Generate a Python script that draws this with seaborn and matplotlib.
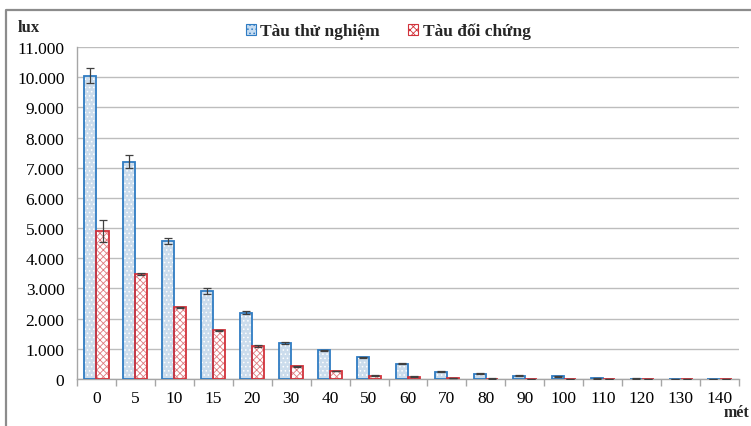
import pandas as pd
import matplotlib
matplotlib.use("Agg")
import matplotlib.pyplot as plt
from matplotlib.patches import Patch, Rectangle
from matplotlib.lines import Line2D
from matplotlib.ticker import FuncFormatter, FixedLocator
import seaborn as sns

# khoảng cách (mét)
distances = ["0", "5", "10", "15", "20", "30", "40", "50", "60", "70",
             "80", "90", "100", "110", "120", "130", "140"]
# độ rọi (lux)
tau_thu_nghiem = [10050, 7200, 4570, 2920, 2200, 1200, 950, 720, 510, 240,
                  180, 110, 90, 25, 15, 5, 5]
tau_doi_chung = [4900, 3470, 2370, 1620, 1090, 420, 260, 110, 75, 30,
                 15, 10, 5, 3, 2, 1, 1]
err_thu_nghiem = [240, 210, 100, 90, 40, 30, 20, 20, 15, 15,
                  15, 15, 15, 15, 10, 5, 5]
err_doi_chung = [365, 30, 20, 20, 20, 10, 10, 10, 10, 10,
                 5, 5, 5, 3, 2, 1, 1]
series = ["Tàu thử nghiệm", "Tàu đối chứng"]

df = pd.DataFrame({
    "dist": distances * 2,
    "lux": tau_thu_nghiem + tau_doi_chung,
    "group": [series[0]] * len(distances) + [series[1]] * len(distances),
})

sns.set_theme(style="white")
plt.rcParams["font.family"] = ["Liberation Serif", "DejaVu Serif"]
plt.rcParams["hatch.linewidth"] = 0.6

fig = plt.figure(figsize=(7.51, 4.27), dpi=100)
ax = fig.add_axes([77 / 751, 47 / 427, (739 - 77) / 751, (380 - 48) / 427])

sns.barplot(data=df, x="dist", y="lux", hue="group", order=distances,
            hue_order=series, width=0.62, errorbar=None, legend=False,
            palette=["#c6dcf1", "white"], ax=ax)

edge_cols = ["#2f7cc3", "#d2333c"]
hatch_cols = ["white", "#e07a7e"]
hatches = ["....", "xxxxx"]
errs = [err_thu_nghiem, err_doi_chung]
bar_conts = list(ax.containers)
for k, cont in enumerate(bar_conts):
    xs, ys = [], []
    for p in cont.patches:
        p.set_hatch(hatches[k])
        p.set_edgecolor(hatch_cols[k])
        p.set_linewidth(0)
        ax.add_patch(Rectangle((p.get_x(), p.get_y()), p.get_width(), p.get_height(),
                               fill=False, edgecolor=edge_cols[k], lw=1.3, zorder=3))
        xs.append(p.get_x() + p.get_width() / 2)
        ys.append(p.get_height())
    ax.errorbar(xs, ys, yerr=errs[k], fmt="none", ecolor="#404040",
                elinewidth=0.9, capsize=2.6, capthick=0.9, zorder=4)

ax.set_xlim(-0.5, len(distances) - 0.5)
ax.set_ylim(0, 11000)
ax.set_yticks(range(0, 11001, 1000))
ax.yaxis.set_major_formatter(FuncFormatter(lambda v, _: f"{int(v):,}".replace(",", ".")))
ax.set_xlabel("")
ax.set_ylabel("")
ax.grid(axis="y", color="#bdbdbd", lw=1)
ax.set_axisbelow(True)
for s in ["top", "right"]:
    ax.spines[s].set_visible(False)
for s in ["left", "bottom"]:
    ax.spines[s].set_color("#a6a6a6")
    ax.spines[s].set_linewidth(1)
ax.xaxis.set_minor_locator(FixedLocator([i - 0.5 for i in range(len(distances) + 1)]))
ax.tick_params(axis="x", which="major", length=0, labelsize=12.5, pad=8, colors="black")
ax.tick_params(axis="x", which="minor", length=5, width=1, color="#a6a6a6", bottom=True)
ax.tick_params(axis="y", length=6, width=1, color="#a6a6a6", labelsize=12.5, pad=3)
for lab in ax.get_xticklabels() + ax.get_yticklabels():
    lab.set_color("black")

fig.text(18 / 751, 1 - 28 / 427, "lux", fontsize=12, fontweight="bold", va="center")
fig.text(749 / 751, 1 - 413 / 427, "mét", fontsize=11.5, fontweight="bold", va="center", ha="right")

handles = [Patch(facecolor="#c6dcf1", edgecolor=edge_cols[0], hatch="....", lw=0.8),
           Patch(facecolor="white", edgecolor=edge_cols[1], hatch="xxxxx", lw=0.8)]
fig.legend(handles, series, loc="center", bbox_to_anchor=(388 / 751, 1 - 32 / 427),
           ncol=2, frameon=False, handlelength=0.6, handleheight=0.6,
           handletextpad=0.25, columnspacing=1.6,
           prop={"weight": "bold", "size": 12.5})

# khung biểu đồ
fig.add_artist(Line2D([6.5 / 751, 6.5 / 751, 1], [0, 1 - 10.5 / 427, 1 - 10.5 / 427],
                      transform=fig.transFigure, color="#8c8c8c", lw=1.6))

fig.savefig("out.png", dpi=100)
